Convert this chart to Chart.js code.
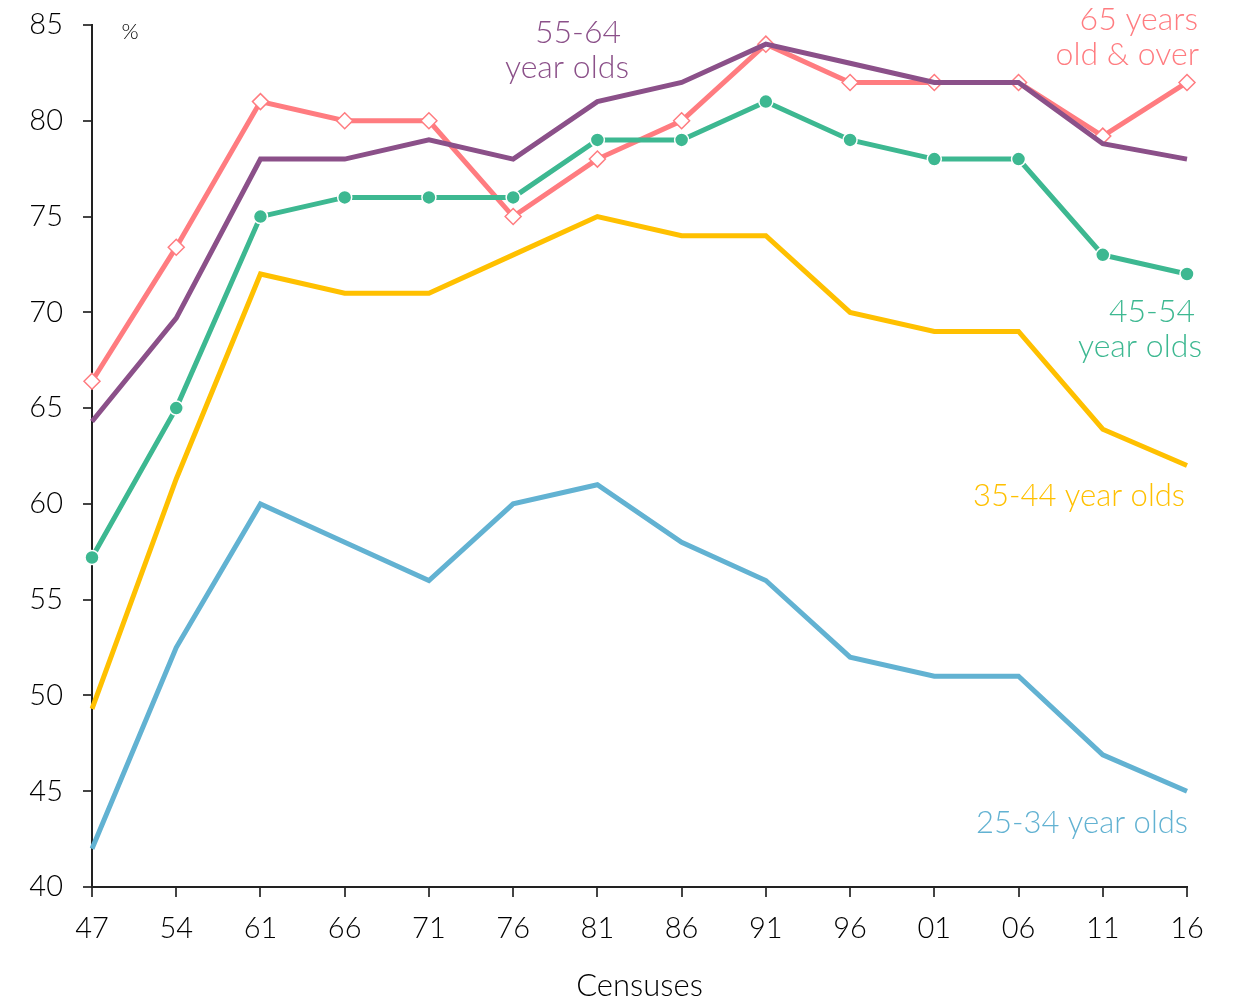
<!DOCTYPE html>
<html><head><meta charset="utf-8">
<script src="https://cdn.jsdelivr.net/npm/chart.js@4.4.1/dist/chart.umd.min.js"></script>
<style>html,body{margin:0;padding:0;background:#fff}#wrap{width:1235px;height:1001px}</style>
</head><body><div id="wrap"><canvas id="c" width="1235" height="1001"></canvas></div>
<script>
const categories = ['47','54','61','66','71','76','81','86','91','96','01','06','11','16'];
const s65plus = [66.4,73.4,81,80,80,75,78,80,84,82,82,82,79.2,82];
const s5564 = [64.3,69.7,78,78,79,78,81,82,84,83,82,82,78.8,78];
const s4554 = [57.2,65,75,76,76,76,79,79,81,79,78,78,73,72];
const s3544 = [49.3,61.3,72,71,71,73,75,74,74,70,69,69,63.9,62];
const s2534 = [42.0,52.5,60,58,56,60,61,58,56,52,51,51,46.9,45];
const yTicks = [40,45,50,55,60,65,70,75,80,85];

const FONT = 'Lato';
const C65='#FF7C80', C55='#8B5089', C45='#3DB891', C35='#FFC000', C25='#62B2D2';

const labels = [
  {t:'%', x:130, y:32, c:'#000', a:'center', s:22},
  {t:'55-64', x:621, y:33, c:C55, a:'right', s:32},
  {t:'year olds', x:629, y:68, c:C55, a:'right', s:32},
  {t:'65 years', x:1198, y:20, c:C65, a:'right', s:32},
  {t:'old & over', x:1199, y:55, c:C65, a:'right', s:32},
  {t:'45-54', x:1195, y:312, c:C45, a:'right', s:32},
  {t:'year olds', x:1202, y:347, c:C45, a:'right', s:32},
  {t:'35-44 year olds', x:1185, y:496, c:C35, a:'right', s:31},
  {t:'25-34 year olds', x:1188, y:823, c:C25, a:'right', s:31}
];

const textPlugin = {
  id:'texts',
  afterDraw(chart){
    const ctx=chart.ctx; ctx.save();
    ctx.textBaseline='middle';
    for(const l of labels){ctx.font='300 '+l.s+'px '+FONT;ctx.fillStyle=l.c;ctx.textAlign=l.a;ctx.fillText(l.t,l.x,l.y);}
    ctx.restore();
  }
};

new Chart(document.getElementById('c'),{
  type:'line',
  data:{labels:categories,datasets:[
    {label:'25-34',data:s2534,borderColor:C25,borderWidth:5,pointRadius:0,tension:0},
    {label:'35-44',data:s3544,borderColor:C35,borderWidth:5,pointRadius:0,tension:0},
    {label:'45-54',data:s4554,borderColor:C45,backgroundColor:C45,borderWidth:5,pointRadius:7,pointBorderColor:'#fff',pointBorderWidth:1.5,pointBackgroundColor:C45,tension:0},
    {label:'55-64',data:s5564,borderColor:C55,borderWidth:5,pointRadius:0,tension:0},
    {label:'65+',data:s65plus,borderColor:C65,borderWidth:5,pointStyle:'rectRot',pointRadius:8,pointBackgroundColor:'#fff',pointBorderColor:C65,pointBorderWidth:1.5,tension:0}
  ]},
  options:{
    responsive:false,animation:false,
    layout:{padding:{top:25,right:48,left:0,bottom:0}},
    plugins:{legend:{display:false},tooltip:{enabled:false}},
    scales:{
      x:{offset:false,
        grid:{drawOnChartArea:false,drawTicks:true,tickLength:10,color:'#444',lineWidth:2},
        border:{color:'#222',width:2},
        ticks:{color:'#000',font:{family:FONT,size:29,weight:'300'},padding:14,maxRotation:0,autoSkip:false},
        title:{display:true,text:'Censuses',color:'#000',font:{family:FONT,size:31,weight:'300',lineHeight:1.0},padding:{top:0,bottom:0}},
        afterFit(s){s.height=114;s.paddingLeft=0;s.paddingRight=0;}
      },
      y:{min:40,max:85,
        afterBuildTicks(s){s.ticks=yTicks.map(v=>({value:v}));},
        grid:{drawOnChartArea:false,drawTicks:true,tickLength:9,color:'#444',lineWidth:2},
        border:{color:'#222',width:2},
        ticks:{color:'#000',font:{family:FONT,size:29,weight:'300'},padding:20},
        afterFit(s){s.width=92;s.paddingTop=0;s.paddingBottom=0;}
      }
    }
  },
  plugins:[textPlugin]
});
</script></body></html>
